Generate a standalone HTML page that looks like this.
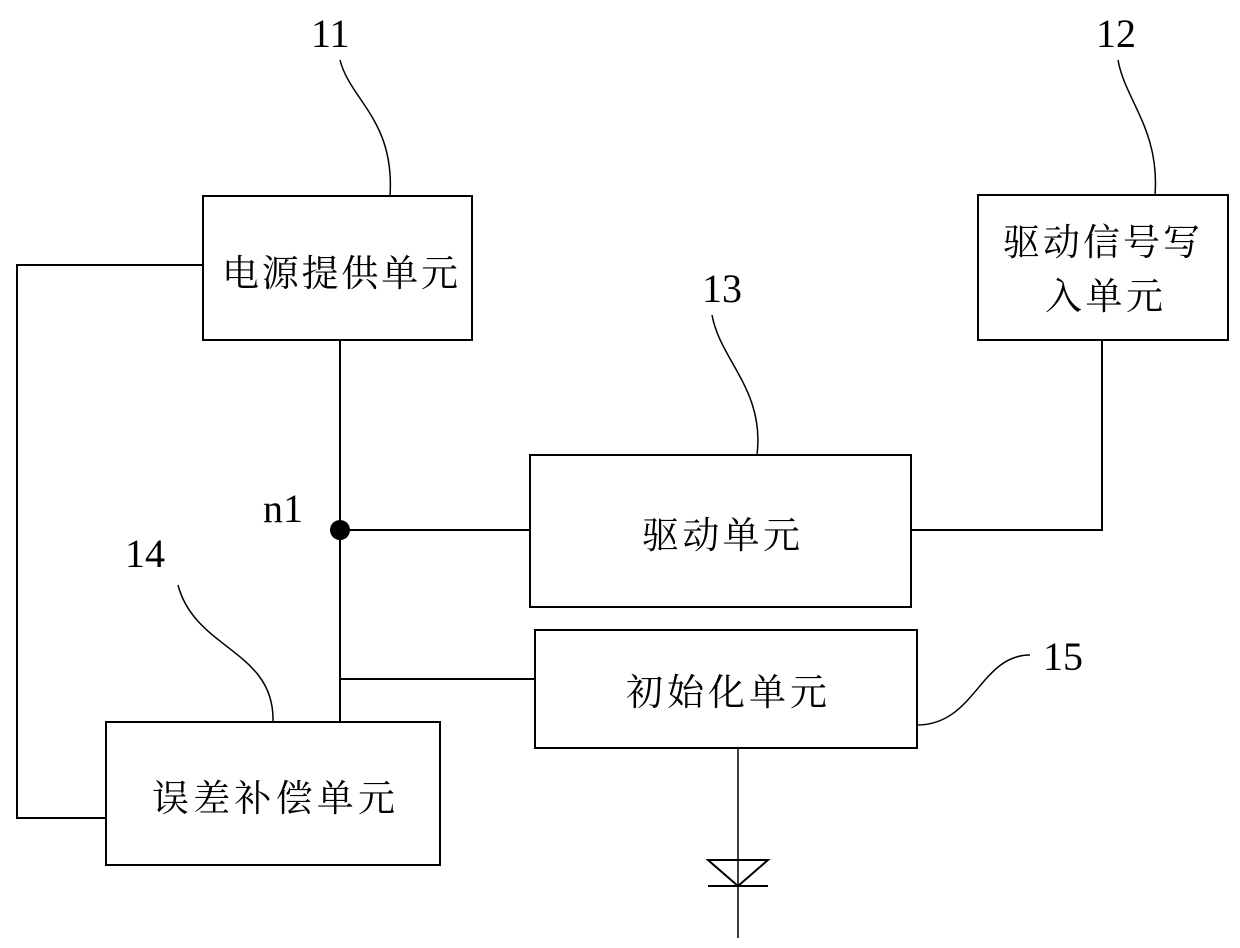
<!DOCTYPE html>
<html><head><meta charset="utf-8"><style>
html,body{margin:0;padding:0;background:#fff;}
svg{display:block;}
.n{font-family:"Liberation Serif",serif;font-size:40px;fill:#000;}
.c{font-family:"Liberation Serif","Noto Serif CJK SC",serif;font-size:37px;fill:#000;}
</style></head><body>
<svg width="1240" height="948" viewBox="0 0 1240 948" xmlns="http://www.w3.org/2000/svg">
<g fill="none" stroke="#000" stroke-width="2">
<rect x="203" y="196" width="269" height="144"/>
<rect x="978" y="195" width="250" height="145"/>
<rect x="530" y="455" width="381" height="152"/>
<rect x="535" y="630" width="382" height="118"/>
<rect x="106" y="722" width="334" height="143"/>
<polyline points="203,265 17,265 17,818 106,818"/>
<line x1="340" y1="340" x2="340" y2="722"/>
<line x1="340" y1="530" x2="530" y2="530"/>
<line x1="340" y1="679" x2="535" y2="679"/>
<polyline points="911,530 1102,530 1102,340"/>
<line x1="738" y1="748" x2="738" y2="938" stroke-width="1.5"/>
<polygon points="708,860 768,860 738,886"/>
<line x1="708" y1="886" x2="768" y2="886"/>
<path d="M340,60 C350,100 395,120 390,196" stroke-width="1.5"/>
<path d="M1118,60 C1125,100 1160,130 1155,195" stroke-width="1.5"/>
<path d="M712,315 C720,360 765,390 757,455" stroke-width="1.5"/>
<path d="M178,585 C195,650 275,650 273,722" stroke-width="1.5"/>
<path d="M1030,655 C980,655 975,725 917,725" stroke-width="1.5"/>
</g>
<circle cx="340" cy="530" r="10" fill="#000"/>
<text class="n" x="311" y="47">11</text>
<text class="n" x="1096" y="47">12</text>
<text class="n" x="702" y="302">13</text>
<text class="n" x="125" y="567">14</text>
<text class="n" x="1043" y="670">15</text>
<text class="n" x="263" y="522">n1</text>
<text class="c" x="222" y="286" textLength="236" lengthAdjust="spacing">电源提供单元</text>
<text class="c" x="1003" y="255" textLength="197" lengthAdjust="spacing">驱动信号写</text>
<text class="c" x="1045" y="309" textLength="118" lengthAdjust="spacing">入单元</text>
<text class="c" x="642" y="548" textLength="158" lengthAdjust="spacing">驱动单元</text>
<text class="c" x="626" y="705" textLength="201" lengthAdjust="spacing">初始化单元</text>
<text class="c" x="152" y="811" textLength="243" lengthAdjust="spacing">误差补偿单元</text>
</svg>
</body></html>
